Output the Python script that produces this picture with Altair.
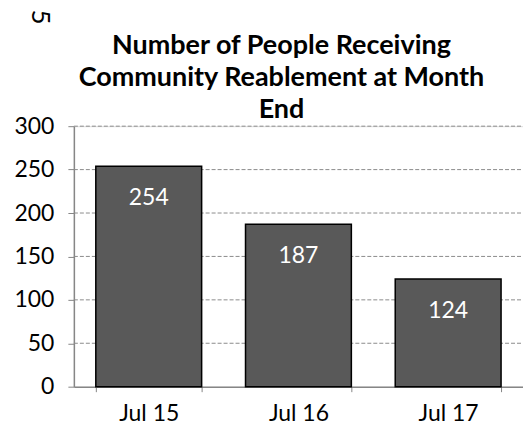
import altair as alt
import pandas as pd

months = ["Jul 15", "Jul 16", "Jul 17"]
people = [254, 187, 124]
grid_values = [50, 100, 150, 200, 250, 300]
title_lines = ["Number of People Receiving", "Community Reablement at Month", "End"]
title_y = [-80, -48, -16]

df = pd.DataFrame({"month": months, "people": people})
grid_df = pd.DataFrame({"v": grid_values})
title_df = pd.DataFrame({"t": title_lines, "y": title_y})

FONT = "Lato"
LABEL_SIZE = 23

x_enc = alt.X("month:N", sort=months, title=None,
              scale=alt.Scale(paddingInner=0.293, paddingOuter=0.1465),
              axis=alt.Axis(labelFontSize=LABEL_SIZE, labelColor="black", labelFont=FONT,
                            labelAngle=0, labelPadding=11, domainColor="#868686",
                            tickColor="#868686", tickSize=5, tickBand="extent",
                            grid=False, domainWidth=1.5))
y_scale = alt.Scale(domain=[0, 300])

grid = alt.Chart(grid_df).mark_rule(color="#8c8c8c", strokeDash=[4, 2], strokeWidth=1).encode(
    y=alt.Y("v:Q", scale=y_scale),
    x=alt.value(0), x2=alt.value(460),
)

bars = alt.Chart(df).mark_bar(color="#595959", stroke="black", strokeWidth=1.5).encode(
    x=x_enc,
    y=alt.Y("people:Q", scale=y_scale, title=None,
            axis=alt.Axis(values=[0, 50, 100, 150, 200, 250, 300], labelFontSize=LABEL_SIZE,
                          labelColor="black", labelFont=FONT, labelPadding=14,
                          domainColor="#868686", tickColor="#868686", tickSize=6,
                          grid=False, domainWidth=1.5)),
)

labels = alt.Chart(df).mark_text(color="white", fontSize=LABEL_SIZE, font=FONT, baseline="middle", dy=32).encode(
    x=alt.X("month:N", sort=months),
    y=alt.Y("people:Q", scale=y_scale),
    text="people:Q",
)

title = alt.Chart(title_df).mark_text(
    fontSize=27, font=FONT, fontWeight="bold", color="black", baseline="middle", align="center"
).encode(x=alt.value(208), y=alt.Y("y:Q", scale=None), text="t:N")

frag = alt.Chart(pd.DataFrame({"t": ["55"]})).mark_text(
    fontSize=26, font=FONT, angle=90, color="black", baseline="middle", align="center"
).encode(x=alt.value(-34), y=alt.value(-117), text="t:N")

chart = alt.layer(grid, bars, labels, title, frag).properties(
    width=450, height=261,
    padding={"left": 66, "top": 118, "right": 0, "bottom": 48},
    autosize=alt.AutoSizeParams(type="none"),
).configure_view(stroke=None).configure(background="white")

chart.save("out.html", embed_options={"renderer": "svg", "actions": False})
